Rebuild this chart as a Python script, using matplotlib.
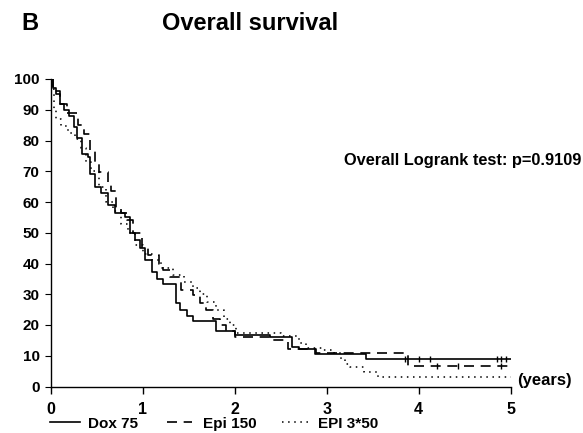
import numpy as np
import matplotlib
matplotlib.use("Agg")
import matplotlib.pyplot as plt
from matplotlib.lines import Line2D

# ---------------- data ----------------
series_names = ["Dox 75", "Epi 150", "EPI 3*50"]

t_dox = [0, 0.03, 0.06, 0.10, 0.15, 0.20, 0.25, 0.29, 0.34, 0.41, 0.43, 0.48, 0.55,
         0.62, 0.70, 0.81, 0.86, 0.92, 0.97, 1.03, 1.10, 1.16, 1.22, 1.36, 1.41, 1.48,
         1.55, 1.80, 2.00, 2.39, 2.62, 2.70, 2.87, 3.43]
s_dox = [100, 97, 95, 92, 90, 88, 84.5, 80.8, 75.5, 74.5, 69, 65, 62.8,
         59, 56.3, 55, 50, 47.5, 45, 41, 37.2, 35, 33.4, 27, 25, 23,
         21.3, 18.2, 16.6, 16, 12.7, 12.3, 10.5, 8.8]
cens_dox = [3.85, 4.00, 4.12, 4.85, 4.90, 4.95]

t_epi = [0, 0.03, 0.10, 0.18, 0.30, 0.36, 0.43, 0.48, 0.52, 0.62, 0.66, 0.71, 0.76,
         0.83, 0.90, 0.99, 1.06, 1.18, 1.22, 1.30, 1.42, 1.55, 1.62, 1.69, 1.76, 1.84,
         1.91, 2.00, 2.39, 2.58, 2.88, 3.88]
s_epi = [100, 96, 92, 89, 85, 82, 77, 72.5, 69.7, 66, 63.5, 58, 56.5,
         54, 50, 45, 42.7, 40, 37.8, 35.6, 31.3, 29.6, 27, 25, 22, 20,
         18.2, 16.2, 15, 12.3, 10.8, 6.8]
cens_epi = [4.20, 4.43, 4.90]

t_e3 = [0, 0.01, 0.04, 0.06, 0.11, 0.19, 0.26, 0.33, 0.38, 0.44, 0.52, 0.60, 0.68,
        0.76, 0.84, 0.92, 1.00, 1.10, 1.20, 1.33, 1.45, 1.55, 1.62, 1.70, 1.80, 1.88,
        1.95, 2.02, 2.50, 2.70, 2.78, 2.95, 3.08, 3.16, 3.20, 3.26, 3.41, 3.56]
s_e3 = [100, 96.6, 90, 87, 84.7, 82.5, 80.4, 77.6, 73, 70, 65, 60, 57,
        53, 50, 46, 43, 41, 38.5, 36.2, 34, 32, 30.2, 27.5, 24.8, 22,
        19.9, 17.5, 16.5, 14, 12.5, 11.8, 11, 9, 7.4, 6.3, 4.7, 3.2]

t_end = 5.0
x_ticks = [0, 1, 2, 3, 4, 5]
y_ticks = [0, 10, 20, 30, 40, 50, 60, 70, 80, 90, 100]

# ---------------- style ----------------
plt.rcParams['font.family'] = ['Liberation Sans', 'DejaVu Sans']
plt.rcParams['font.weight'] = 'bold'

W, H = 583, 433
fig = plt.figure(figsize=(W / 100, H / 100), dpi=100)
x0, x1, y0, y1 = 50.7, 510.5, 386.5, 79.0
ax = fig.add_axes([x0 / W, 1 - y0 / H, (x1 - x0) / W, (y0 - y1) / H])

styles = [dict(ls='-', lw=1.2), dict(ls=(0, (6, 4)), lw=1.2), dict(ls=(0, (1, 3)), lw=1.1)]
datasets = [(t_dox, s_dox, cens_dox), (t_epi, s_epi, cens_epi), (t_e3, s_e3, [])]

for (t, s, c), st in zip(datasets, styles):
    tt = list(t) + [t_end]
    ss = list(s) + [s[-1]]
    ax.step(tt, ss, where='post', color='black', **st)
    if c:
        idx = np.searchsorted(np.array(t), np.array(c), side='right') - 1
        cv = np.array(s)[idx]
        ax.plot(c, cv, ls='none', marker='|', ms=5, mew=1, color='black')

ax.set_xlim(0, 5)
ax.set_ylim(0, 100)
ax.set_xticks(x_ticks)
ax.set_yticks(y_ticks)
ax.set_xticklabels([str(v) for v in x_ticks], fontsize=11.5, fontweight='bold')
ax.set_yticklabels([str(v) for v in y_ticks], fontsize=11, fontweight='bold')
ax.tick_params(axis='x', direction='out', length=5, width=1, pad=6.5)
ax.tick_params(axis='y', direction='out', length=4, width=0.8, pad=4)
for sp in ['top', 'right']:
    ax.spines[sp].set_visible(False)
ax.spines['left'].set_linewidth(1.0)
ax.spines['bottom'].set_linewidth(1.0)

def ftext(px, py, s, **kw):
    fig.text(px / W, 1 - py / H, s, **kw)

ftext(29.5, 24, "B", fontsize=17, fontweight='bold', ha='center', va='center')
ftext(250, 24, "Overall survival", fontsize=17, fontweight='bold', ha='center', va='center')
ftext(581, 160, "Overall Logrank test: p=0.9109", fontsize=11.8, fontweight='bold',
      ha='right', va='center')
ftext(517, 381, "(years)", fontsize=12, fontweight='bold', ha='left', va='center')

# legend
leg_y = 422
leg = [(50, 80, 88), (167, 192, 203), (282, 308, 318)]
for (la, lb, tx), st, name in zip(leg, styles, series_names):
    fig.add_artist(Line2D([la / W, lb / W], [1 - leg_y / H, 1 - leg_y / H],
                          color='black', **st))
    ftext(tx, leg_y + 2, name, fontsize=11, fontweight='bold', ha='left', va='center')

fig.savefig("out.png", dpi=100)
